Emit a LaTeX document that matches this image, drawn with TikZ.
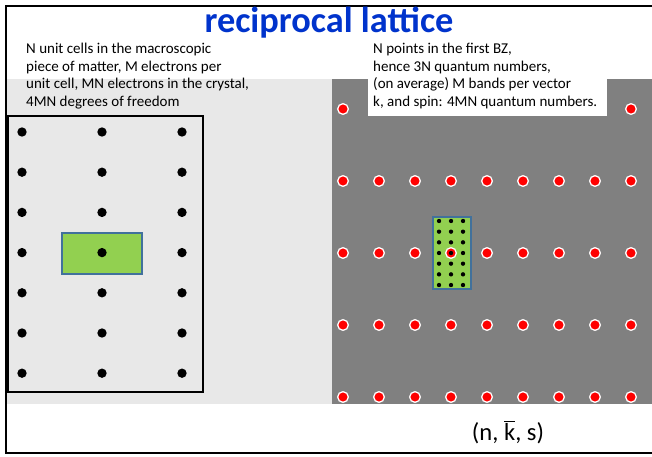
\documentclass[tikz,border=0pt]{standalone}
\usepackage{fontspec}
\setmainfont{Carlito}
\usepackage{tikz}
\usetikzlibrary{positioning}
\definecolor{titleblue}{RGB}{0,51,204}
\definecolor{cellgreen}{RGB}{146,208,80}
\definecolor{cellblue}{RGB}{65,113,156}
\definecolor{lightgrey}{RGB}{232,232,232}
\definecolor{darkgrey}{RGB}{128,128,128}

\begin{document}
\begin{tikzpicture}[x=0.03cm,y=-0.03cm,
  frame/.style={line width=2.5pt},
  bdot/.style={circle,fill=black,inner sep=0pt,minimum size=2.8mm},
  rdot/.style={circle,fill=red,draw=white,line width=1.1pt,inner sep=0pt,minimum size=3.2mm},
  sdot/.style={circle,fill=black,inner sep=0pt,minimum size=1.3mm},
  cell/.style={fill=cellgreen,draw=cellblue,line width=1pt},
  note/.style={align=left,anchor=north west,inner sep=0pt,font=\fontsize{12.8}{15}\selectfont}]
\useasboundingbox (0,0) rectangle (652,457);
% backgrounds
\fill[lightgrey] (6,79) rectangle (332,404);
\fill[darkgrey] (332,79) rectangle (652,404);
\fill[white] (368,79) rectangle (607,116);
\draw[frame] (652,6) -- (6,6) -- (6,453) -- (652,453);
% title and notes
\node[font=\fontsize{31}{34}\selectfont\bfseries,text=titleblue] (title) at (329,23) {reciprocal lattice};
\node[note] (direct) at (26,43) {N unit cells in the macroscopic\\piece of matter, M electrons per\\unit cell, MN electrons in the crystal,\\4MN degrees of freedom};
\node[note] (recip) at (373,43) {N points in the first BZ,\\hence 3N quantum numbers,\\(on average) M bands per vector\\k, and spin: 4MN quantum numbers.};
% direct lattice
\draw[line width=2.2pt] (8,116) rectangle (203,392);
\draw[cell] (62,233) rectangle (142,274);
\foreach \i in {0,1,2}
  \foreach \j in {0,...,6}
    \node[bdot] (d-\i-\j) at (22+80*\i,132+40.2*\j) {};
% reciprocal lattice
\draw[cell] (433,217) rectangle (471,289);
\node[rdot] (r-0-0) at (343,109) {};
\node[rdot] (r-8-0) at (631,109) {};
\foreach \i in {0,...,8}
  \foreach \j in {1,...,4}
    \node[rdot] (r-\i-\j) at (343+36*\i,109+72*\j) {};
\foreach \i in {0,1,2}
  \foreach \j in {0,...,6}
    \node[sdot] (s-\i-\j) at (439+12*\i,221+10.67*\j) {};
% quantum numbers
\node[font=\fontsize{21}{24}\selectfont] (label) at (508,432) {(n, $\overline{\mbox{k}}$, s)};
\end{tikzpicture}
\end{document}
